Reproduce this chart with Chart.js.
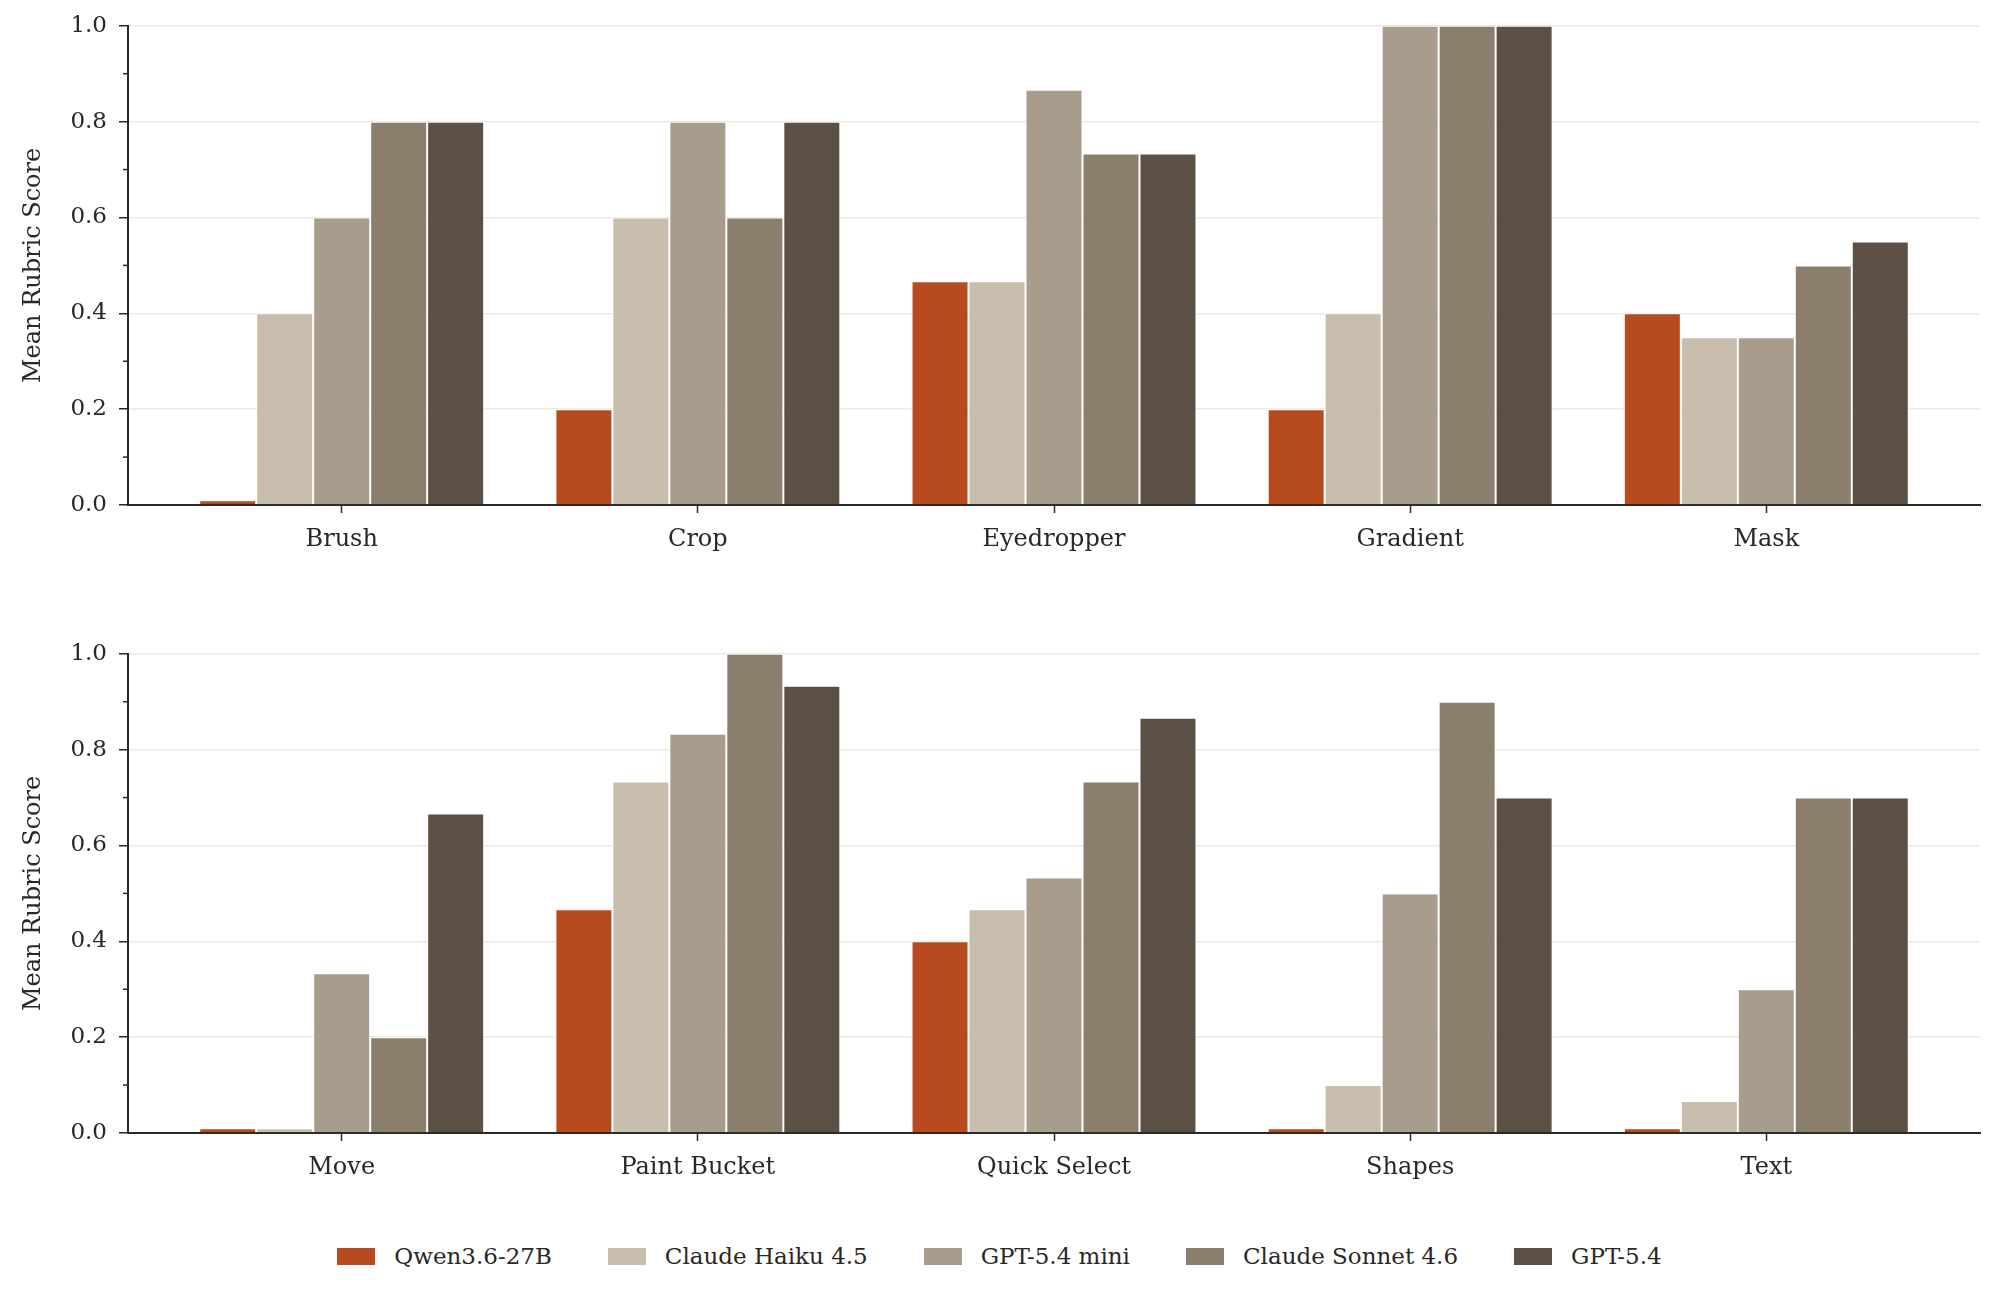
<!DOCTYPE html>
<html>
<head>
<meta charset="utf-8">
<script src="https://cdn.jsdelivr.net/npm/chart.js@4/dist/chart.umd.min.js"></script>
<style>
  body { margin: 0; background: #fff; width: 1999px; height: 1301px; overflow: hidden; position: relative; }
  .panel { position: absolute; left: 0; width: 1999px; height: 560px; }
  #top { top: 0; }
  #bottom { top: 628px; }
  #legend {
    position: absolute; left: 0; width: 1999px; top: 1236px; height: 40px;
    display: flex; justify-content: center; align-items: center; gap: 56px;
    font-family: "DejaVu Serif", serif; font-size: 23px; color: #2a2724;
  }
  #legend .item { display: flex; align-items: center; }
  #legend .box { width: 38px; height: 17px; margin-right: 19px; }
</style>
</head>
<body>
<div class="panel" id="top"><canvas id="chartTop"></canvas></div>
<div class="panel" id="bottom"><canvas id="chartBottom"></canvas></div>
<div id="legend"></div>
<script>
const categoriesTop = ['Brush', 'Crop', 'Eyedropper', 'Gradient', 'Mask'];
const categoriesBottom = ['Move', 'Paint Bucket', 'Quick Select', 'Shapes', 'Text'];
const models = ['Qwen3.6-27B', 'Claude Haiku 4.5', 'GPT-5.4 mini', 'Claude Sonnet 4.6', 'GPT-5.4'];
const colors = ['#b84a20', '#c9bdad', '#a89c8d', '#8b7e6d', '#5c4f43'];

const qwenTop = [0.01, 0.2, 0.4667, 0.2, 0.4];
const haikuTop = [0.4, 0.6, 0.4667, 0.4, 0.35];
const miniTop = [0.6, 0.8, 0.8667, 1.0, 0.35];
const sonnetTop = [0.8, 0.6, 0.7333, 1.0, 0.5];
const gptTop = [0.8, 0.8, 0.7333, 1.0, 0.55];

const qwenBottom = [0.01, 0.4667, 0.4, 0.01, 0.01];
const haikuBottom = [0.01, 0.7333, 0.4667, 0.1, 0.0667];
const miniBottom = [0.3333, 0.8333, 0.5333, 0.5, 0.3];
const sonnetBottom = [0.2, 1.0, 0.7333, 0.9, 0.7];
const gptBottom = [0.6667, 0.9333, 0.8667, 0.7, 0.7];

const yTicks = [0, 0.2, 0.4, 0.6, 0.8, 1.0];
const yMinorTicks = [0.1, 0.3, 0.5, 0.7, 0.9];

const FONT = '"DejaVu Serif", serif';
const INK = '#2a2724';

// small minor tick marks on the y axis
const minorTicks = {
  id: 'minorTicks',
  afterDraw(chart) {
    const y = chart.scales.y;
    const ctx = chart.ctx;
    ctx.save();
    ctx.strokeStyle = INK;
    ctx.lineWidth = 1.5;
    yMinorTicks.forEach(v => {
      const py = y.getPixelForValue(v);
      ctx.beginPath();
      ctx.moveTo(y.right - 5, py);
      ctx.lineTo(y.right, py);
      ctx.stroke();
    });
    ctx.restore();
  }
};

function makeChart(id, categories, series) {
  const ctx = document.getElementById(id).getContext('2d');
  return new Chart(ctx, {
    type: 'bar',
    data: {
      datasets: series.map((vals, k) => ({
        label: models[k],
        data: vals.map((v, i) => ({ x: i, y: v })),
        backgroundColor: colors[k],
        borderColor: '#ffffff',
        borderWidth: 1,
        borderSkipped: 'bottom',
        categoryPercentage: 0.8,
        barPercentage: 1.0
      }))
    },
    options: {
      responsive: true,
      maintainAspectRatio: false,
      animation: false,
      devicePixelRatio: 1,
      layout: { padding: { top: 20, right: 19, left: 0, bottom: 0 } },
      plugins: {
        legend: { display: false },
        tooltip: { enabled: false }
      },
      scales: {
        x: {
          type: 'linear',
          min: -0.6,
          max: 4.6,
          offset: false,
          afterBuildTicks: s => { s.ticks = categories.map((c, i) => ({ value: i })); },
          afterFit: s => { s.height = 55; },
          ticks: {
            callback: v => categories[v],
            font: { family: FONT, size: 24 },
            color: INK,
            padding: 12,
            maxRotation: 0,
            autoSkip: false
          },
          grid: { offset: false, drawOnChartArea: false, tickLength: 8, tickColor: INK, tickWidth: 1.5 },
          border: { color: INK, width: 2 }
        },
        y: {
          min: 0,
          max: 1,
          afterBuildTicks: s => { s.ticks = yTicks.map(v => ({ value: v })); },
          afterFit: s => { s.width = 128; },
          ticks: {
            callback: v => v.toFixed(1),
            font: { family: FONT, size: 23 },
            color: INK,
            padding: 12
          },
          title: {
            display: true,
            text: 'Mean Rubric Score',
            font: { family: FONT, size: 24 },
            color: INK,
            padding: { top: 19, bottom: 0 }
          },
          grid: { color: '#ecebe2', lineWidth: 1.5, tickLength: 9, tickColor: INK, tickWidth: 1.5 },
          border: { color: INK, width: 2 }
        }
      }
    },
    plugins: [minorTicks]
  });
}

makeChart('chartTop', categoriesTop, [qwenTop, haikuTop, miniTop, sonnetTop, gptTop]);
makeChart('chartBottom', categoriesBottom, [qwenBottom, haikuBottom, miniBottom, sonnetBottom, gptBottom]);

const legend = document.getElementById('legend');
models.forEach((m, k) => {
  const item = document.createElement('div');
  item.className = 'item';
  item.innerHTML = `<span class="box" style="background:${colors[k]}"></span><span>${m}</span>`;
  legend.appendChild(item);
});
</script>
</body>
</html>
